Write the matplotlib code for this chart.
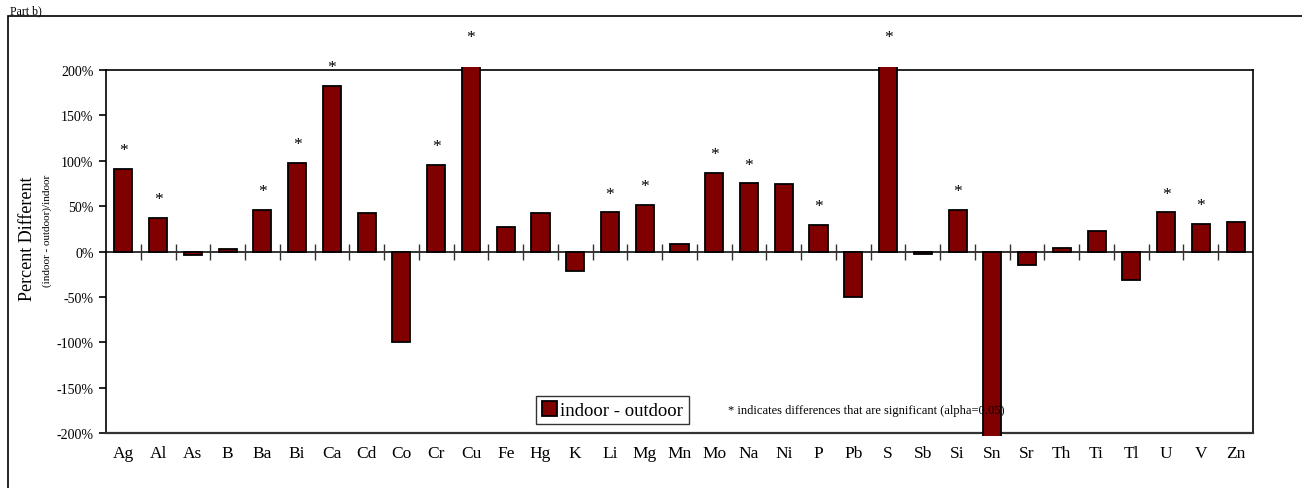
import matplotlib
matplotlib.use("Agg")
import matplotlib.pyplot as plt
from matplotlib.patches import Rectangle
import numpy as np

elements = ["Ag", "Al", "As", "B", "Ba", "Bi", "Ca", "Cd", "Co", "Cr", "Cu", "Fe", "Hg", "K",
            "Li", "Mg", "Mn", "Mo", "Na", "Ni", "P", "Pb", "S", "Sb", "Si", "Sn", "Sr", "Th",
            "Ti", "Tl", "U", "V", "Zn"]
pct_diff = [91, 37, -4, 3, 46, 98, 182, 42, -100, 95, 215, 27, 42, -22,
            43, 51, 8, 87, 75, 74, 29, -50, 215, -3, 46, -210, -15, 4,
            23, -31, 43, 30, 33]
significant = [True, True, False, False, True, True, True, False, False, True, True, False, False, False,
               True, True, False, True, True, False, True, False, True, False, True, False, False, False,
               False, False, True, True, False]
yticks = [-200, -150, -100, -50, 0, 50, 100, 150, 200]

plt.rcParams['font.family'] = ['Liberation Serif', 'DejaVu Serif']

fig = plt.figure(figsize=(13.02, 4.89), dpi=100)
ax = fig.add_axes([106/1302, 1-434/489, (1253-106)/1302, (434-71)/489])

x = np.arange(len(elements))
bars = ax.bar(x, pct_diff, width=0.52, color='#800000', edgecolor='black', linewidth=1.3,
              label='indoor - outdoor', zorder=3)
clip = Rectangle((0, -0.008), 1, 1.016, transform=ax.transAxes, facecolor='none', edgecolor='none')
ax.add_patch(clip)
for b in bars:
    b.set_clip_path(clip)

for xi, v, s in zip(x, pct_diff, significant):
    if s:
        ax.text(xi, v + 12, '*', ha='center', va='bottom', fontsize=12.5, clip_on=False)

ax.set_xlim(-0.5, len(elements) - 0.5)
ax.set_ylim(-200, 200)
ax.set_yticks(yticks)
ax.set_yticklabels([f"{t}%" for t in yticks], fontsize=10)
ax.set_xticks(x)
ax.set_xticklabels(elements, fontsize=12.5)
ax.tick_params(axis='x', length=0, pad=9)
ax.tick_params(axis='y', direction='out', length=5, width=1.2, pad=4)
for sp in ax.spines.values():
    sp.set_linewidth(1.2)
ax.spines['bottom'].set_color('#333333')
ax.spines['bottom'].set_linewidth(1.6)

ax.axhline(0, color='#333333', linewidth=1.4, zorder=2)
ax2 = ax.twiny()
ax2.set_xlim(ax.get_xlim())
for name in ['top', 'left', 'right']:
    ax2.spines[name].set_visible(False)
ax2.spines['bottom'].set_position(('axes', 0.5))
ax2.spines['bottom'].set_visible(False)
ax2.xaxis.set_ticks_position('bottom')
ax2.set_xticks(np.arange(len(elements) - 1) + 0.5)
ax2.set_xticklabels([])
ax2.tick_params(axis='x', direction='inout', length=11, width=1.0, color='#333333')

fig.text(28/1302, 1-239/489, 'Percent Different', rotation=90, ha='center', va='center', fontsize=13)
fig.text(47/1302, 1-231/489, '(indoor - outdoor)/indoor', rotation=90, ha='center', va='center', fontsize=8)

leg = ax.legend(loc='center', bbox_to_anchor=((531+694)/2/1302, 1-411/489), bbox_transform=fig.transFigure,
                frameon=True, fancybox=False, edgecolor='black', fontsize=13.5,
                handlelength=0.8, handleheight=0.8, handletextpad=0.2, borderpad=0.3, borderaxespad=0)
leg.get_frame().set_linewidth(1.0)
leg.set_zorder(1)

fig.text(728/1302, 1-411/489, '* indicates differences that are significant (alpha=0.05)',
         ha='left', va='center', fontsize=9, zorder=1)

fig.text(10/1302, 1-11/489, 'Part b)', ha='left', va='center', fontsize=8.5)
fig.add_artist(Rectangle((8/1302, -0.01), 1.1, 1 - 17/489 + 0.01, transform=fig.transFigure,
                         facecolor='none', edgecolor='black', linewidth=1.2))

fig.savefig('out.png', dpi=100)
